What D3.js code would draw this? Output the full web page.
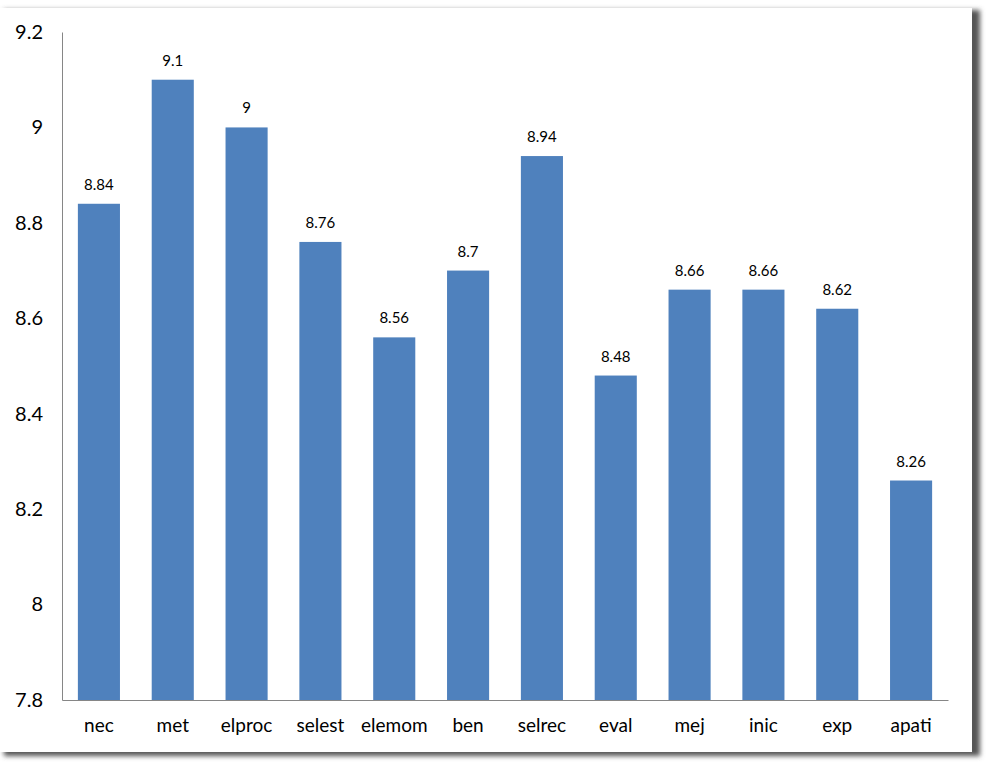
<!DOCTYPE html>
<html>
<head>
<meta charset="utf-8">
<script src="https://cdn.jsdelivr.net/npm/d3@7"></script>
<style>
  body { margin: 0; background: #fff; }
  svg { display: block; font-family: Lato, "Open Sans", sans-serif; }
</style>
</head>
<body>
<div class="chart"></div>
<script>
const categories = ['nec', 'met', 'elproc', 'selest', 'elemom', 'ben', 'selrec', 'eval', 'mej', 'inic', 'exp', 'apati'];
const values = [8.84, 9.1, 9, 8.76, 8.56, 8.7, 8.94, 8.48, 8.66, 8.66, 8.62, 8.26];
const yTicks = [7.8, 8, 8.2, 8.4, 8.6, 8.8, 9, 9.2];

const svgSize = { width: 987, height: 762 };
const plot = { left: 62, right: 948, top: 32, bottom: 700 };

const svg = d3.select('.chart')
    .append('svg')
    .attr('width', svgSize.width)
    .attr('height', svgSize.height);

// drop shadow for the frame
const defs = svg.append('defs');
const blur = defs.append('filter').attr('id', 'blur')
    .attr('x', -0.05).attr('y', -0.05).attr('width', 1.1).attr('height', 1.1);
blur.append('feGaussianBlur').attr('stdDeviation', 2.5);

svg.append('rect')
    .attr('x', 4).attr('y', 10).attr('width', 976).attr('height', 746)
    .attr('fill', '#555')
    .attr('filter', 'url(#blur)');
svg.append('rect')
    .attr('x', -2).attr('y', 8).attr('width', 974).attr('height', 744)
    .attr('fill', '#fff');

const x = d3.scaleBand()
    .domain(categories)
    .range([plot.left, plot.right])
    .paddingInner(0.43)
    .paddingOuter(0.215);

const y = d3.scaleLinear()
    .domain([7.8, 9.2])
    .range([plot.bottom, plot.top]);

svg.append('g')
    .selectAll('rect')
    .data(values)
    .enter()
    .append('rect')
    .attr('x', (d, i) => x(categories[i]))
    .attr('y', d => y(d))
    .attr('width', x.bandwidth())
    .attr('height', d => y(7.8) - y(d))
    .attr('fill', '#4f81bd');

svg.append('g')
    .selectAll('text')
    .data(values)
    .enter()
    .append('text')
    .attr('x', (d, i) => x(categories[i]) + x.bandwidth() / 2)
    .attr('y', d => y(d) - 14)
    .attr('text-anchor', 'middle')
    .attr('font-size', 15)
    .attr('fill', '#000')
    .text(d => d);

// y axis
const yAxis = svg.append('g')
    .attr('transform', `translate(${plot.left}, 0)`)
    .call(d3.axisLeft(y).tickValues(yTicks).tickSize(0).tickPadding(19).tickFormat(d => d));
yAxis.select('.domain').attr('stroke', '#868686');
yAxis.selectAll('text').attr('font-size', 20).attr('font-family', 'Lato, sans-serif').attr('fill', '#000');

// x axis
const xAxis = svg.append('g')
    .attr('transform', `translate(0, ${plot.bottom})`)
    .call(d3.axisBottom(x).tickSize(0).tickPadding(19));
xAxis.select('.domain').attr('stroke', '#868686');
xAxis.selectAll('text').attr('font-size', 19).attr('font-family', 'Lato, sans-serif').attr('fill', '#000');
</script>
</body>
</html>
